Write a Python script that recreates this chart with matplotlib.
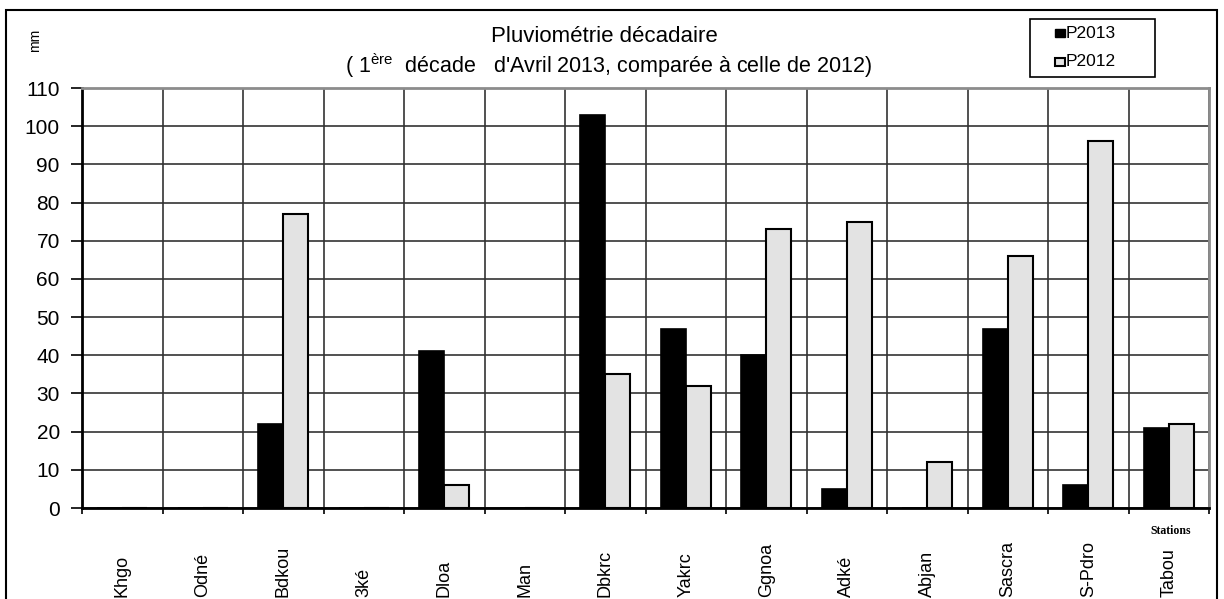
import matplotlib
matplotlib.use("Agg")
import matplotlib.pyplot as plt
import numpy as np
from matplotlib.patches import Rectangle

plt.rcParams['font.family'] = ['Liberation Sans', 'DejaVu Sans']

stations = ["Khgo", "Odné", "Bdkou", "3ké", "Dloa", "Man", "Dbkrc", "Yakrc",
            "Ggnoa", "Adké", "Abjan", "Sascra", "S-Pdro", "Tabou"]
p2013 = [0, 0, 22, 0, 41, 0, 103, 47, 40, 5, 0, 47, 6, 21]
p2012 = [0, 0, 77, 0, 6, 0, 35, 32, 73, 75, 12, 66, 96, 22]
yticks = list(range(0, 111, 10))

W, H = 1224, 599
fig = plt.figure(figsize=(W / 100, H / 100), dpi=100)
ax = fig.add_axes([82 / W, 1 - 508 / H, (1209 - 82) / W, (508 - 88) / H])

x = np.arange(len(stations))
bw = 0.31
ax.bar(x - bw / 2, p2013, bw, color='black', edgecolor='black', linewidth=1.2, zorder=3)
ax.bar(x + bw / 2, p2012, bw, color='#e3e3e3', edgecolor='black', linewidth=1.5, zorder=3)

ax.set_xlim(-0.5, len(stations) - 0.5)
ax.set_ylim(0, 110)
ax.set_yticks(yticks)
ax.set_yticklabels([str(v) for v in yticks], fontsize=15)
ax.tick_params(axis='y', direction='out', length=8, width=1.2, pad=8)

# category boundary ticks / gridlines
bounds = np.arange(-0.5, len(stations) + 0.5, 1)
ax.set_xticks(bounds)
ax.set_xticklabels([])
ax.tick_params(axis='x', direction='out', length=4, width=1.2)
ax.grid(True, axis='both', color='#333333', linewidth=1.2, zorder=0)
ax.set_axisbelow(True)

for s in ['top', 'right']:
    ax.spines[s].set_color('#8c8c8c')
    ax.spines[s].set_linewidth(2)
for s in ['left', 'bottom']:
    ax.spines[s].set_color('black')
    ax.spines[s].set_linewidth(2)
ax.spines['bottom'].set_zorder(4)

# station labels (rotated, below axis)
for i, name in enumerate(stations):
    xf = (82 + (i + 0.5) * (1209 - 82) / len(stations)) / W
    fig.text(xf, 2 / H, name, rotation=90, ha='center', va='bottom', fontsize=13)

fig.text(1171 / W, 1 - 531 / H, "Stations", fontsize=8.5, fontweight='bold',
         ha='center', va='center', family=['Liberation Serif', 'DejaVu Serif'])

# titles
fig.text(604 / W, 1 - 37 / H, "Pluviométrie décadaire", fontsize=16, ha='center', va='center')
fig.text(608 / W, 1 - 66 / H,
         r"( 1$^{\mathregular{ère}}$  décade   d'Avril 2013, comparée à celle de 2012)",
         fontsize=15.5, ha='center', va='center')

fig.text(35 / W, 1 - 40 / H, "mm", rotation=90, fontsize=10, ha='center', va='center')

# legend box
fig.patches.append(Rectangle((1030 / W, 1 - 77 / H), (1155 - 1030) / W, (77 - 19) / H,
                             transform=fig.transFigure, fill=False, edgecolor='black',
                             linewidth=1.2))
fig.patches.append(Rectangle((1055 / W, 1 - 37 / H), 10 / W, 8 / H,
                             transform=fig.transFigure, facecolor='black',
                             edgecolor='black', linewidth=1))
fig.patches.append(Rectangle((1055 / W, 1 - 66 / H), 10 / W, 8 / H,
                             transform=fig.transFigure, facecolor='#e3e3e3',
                             edgecolor='black', linewidth=1.5))
fig.text(1066 / W, 1 - 33 / H, "P2013", fontsize=12.5, ha='left', va='center')
fig.text(1066 / W, 1 - 62 / H, "P2012", fontsize=12.5, ha='left', va='center')

# outer chart border
fig.patches.append(Rectangle((6 / W, -0.05), (1217 - 6) / W, 1.05 - 10 / H,
                             transform=fig.transFigure, fill=False, edgecolor='black',
                             linewidth=1.5))

fig.savefig("out.png", dpi=100, facecolor='white')
